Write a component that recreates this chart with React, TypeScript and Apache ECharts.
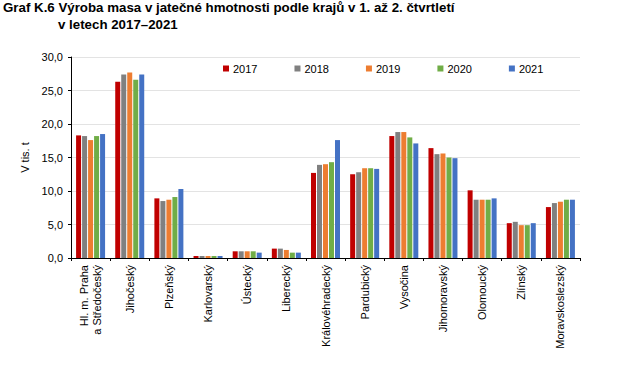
import React, { useEffect, useRef } from "react";
import * as echarts from "echarts";

const categories = [
  "Hl. m. Praha\na Středočeský",
  "Jihočeský",
  "Plzeňský",
  "Karlovarský",
  "Ústecký",
  "Liberecký",
  "Královéhradecký",
  "Pardubický",
  "Vysočina",
  "Jihomoravský",
  "Olomoucký",
  "Zlínský",
  "Moravskoslezský",
];

const years = ["2017", "2018", "2019", "2020", "2021"];
const colors = ["#C00000", "#808080", "#ED7D31", "#70AD47", "#4472C4"];

const v2017 = [18.3, 26.3, 8.9, 0.3, 1.0, 1.4, 12.7, 12.5, 18.2, 16.4, 10.1, 5.2, 7.6];
const v2018 = [18.2, 27.4, 8.5, 0.3, 1.0, 1.4, 13.9, 12.8, 18.8, 15.5, 8.7, 5.4, 8.2];
const v2019 = [17.6, 27.7, 8.7, 0.3, 1.0, 1.2, 14.0, 13.4, 18.8, 15.6, 8.7, 4.9, 8.4];
const v2020 = [18.2, 26.6, 9.1, 0.3, 1.0, 0.8, 14.3, 13.4, 18.0, 15.0, 8.7, 4.9, 8.7];
const v2021 = [18.5, 27.4, 10.3, 0.3, 0.8, 0.8, 17.6, 13.3, 17.1, 14.9, 8.9, 5.2, 8.7];
const seriesValues = [v2017, v2018, v2019, v2020, v2021];

const titleLine1 = "Graf K.6 Výroba masa v jatečné hmotnosti podle krajů v 1. až 2. čtvrtletí";
const titleLine2 = "v letech 2017–2021";
const yAxisName = "V tis. t";

export default function App() {
  const ref = useRef<HTMLDivElement>(null);
  useEffect(() => {
    if (!ref.current) return;
    const chart = echarts.init(ref.current, null, { renderer: "svg" });
    const font = "Arial, 'Liberation Sans', sans-serif";
    chart.setOption({
      animation: false,
      textStyle: { fontFamily: font },
      title: [
        {
          text: titleLine1,
          left: 3,
          top: 1,
          padding: 0,
          textStyle: { fontSize: 13.3, fontWeight: "bold", color: "#000", fontFamily: font },
        },
        {
          text: titleLine2,
          left: 58,
          top: 18,
          padding: 0,
          textStyle: { fontSize: 13.3, fontWeight: "bold", color: "#000", fontFamily: font },
        },
      ],
      legend: {
        data: years,
        left: 218,
        top: 58,
        itemWidth: 6,
        itemHeight: 6,
        itemGap: 37,
        icon: "rect",
        textStyle: { fontSize: 11, color: "#000", fontFamily: font, padding: [0, 0, 0, -1] },
      },
      grid: { left: 71, right: 37, top: 57, bottom: 113, containLabel: false },
      xAxis: {
        type: "category",
        data: categories,
        axisLine: { lineStyle: { color: "#000", width: 1 } },
        axisTick: { show: true, length: 3, lineStyle: { color: "#000" } },
        axisLabel: {
          rotate: 90,
          interval: 0,
          fontSize: 11,
          color: "#000",
          margin: 7,
          lineHeight: 13,
          fontFamily: font,
        },
      },
      yAxis: {
        type: "value",
        min: 0,
        max: 30,
        interval: 5,
        name: yAxisName,
        nameLocation: "middle",
        nameGap: 32,
        nameRotate: 90,
        nameTextStyle: { fontSize: 11, color: "#000", fontFamily: font },
        axisLine: { show: true, lineStyle: { color: "#000" } },
        axisTick: { show: true, length: 3, lineStyle: { color: "#000" } },
        axisLabel: {
          fontSize: 11,
          color: "#000",
          margin: 8,
          fontFamily: font,
          formatter: (v: number) => v.toFixed(1).replace(".", ","),
        },
        splitLine: { show: true, lineStyle: { color: "#e3e3e3", width: 1 } },
      },
      series: years.map((y, i) => ({
        name: y,
        type: "bar",
        data: seriesValues[i],
        barWidth: 5,
        barGap: "20%",
        itemStyle: { color: colors[i] },
      })),
    });
    return () => chart.dispose();
  }, []);
  return (
    <div
      ref={ref}
      style={{ position: "fixed", left: 0, top: 0, width: 617, height: 371, background: "#fff" }}
    />
  );
}
